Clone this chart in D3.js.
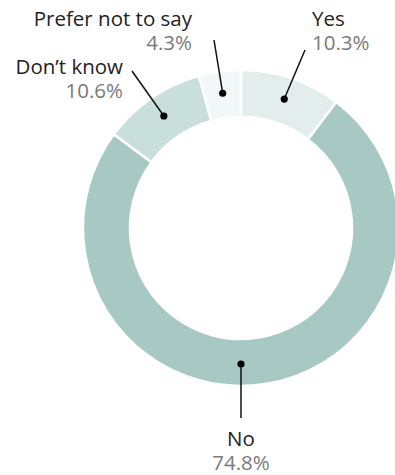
<!DOCTYPE html>
<html>
<head>
<meta charset="utf-8">
<script src="https://cdn.jsdelivr.net/npm/d3@7/dist/d3.min.js"></script>
<style>
  html, body { margin: 0; padding: 0; background: #fff; }
  svg { display: block; }
  text { font-family: "Open Sans", "Noto Sans", sans-serif; }
</style>
</head>
<body>
<svg id="chart" width="395" height="475"></svg>
<script>
// Survey answers, in drawing order clockwise from 12 o'clock
const categories = ["Yes", "No", "Don\u2019t know", "Prefer not to say"];
const shares = [10.3, 74.8, 10.6, 4.3];
const pctLabels = ["10.3%", "74.8%", "10.6%", "4.3%"];
const colors = ["#e3eeec", "#a8c8c4", "#c9dfdb", "#f2f7f7"];

const svg = d3.select("#chart");
const cx = 241, cy = 228;
const outerR = 158, innerR = 111, dotR = 136;

const data = categories.map((c, i) => ({ name: c, value: shares[i], pct: pctLabels[i], color: colors[i] }));

const pie = d3.pie().value(d => d.value).sort(null);
const arcs = pie(data);
const arc = d3.arc().innerRadius(innerR).outerRadius(outerR);

const g = svg.append("g").attr("transform", `translate(${cx},${cy})`);

g.selectAll("path.slice")
  .data(arcs)
  .join("path")
  .attr("class", "slice")
  .attr("d", arc)
  .attr("fill", d => d.data.color)
  .attr("stroke", "#fff")
  .attr("stroke-width", 2.5);

// Callout layout per slice: where the leader ends and how the text is anchored
const callouts = [
  { end: [64, -178], tx: 71, ty: -202, anchor: "start" },
  { end: [0, 190], tx: 0, ty: 218, anchor: "middle" },
  { end: [-109, -157], tx: -118, ty: -154, anchor: "end" },
  { end: [-27, -188], tx: -49, ty: -202, anchor: "end" }
];

arcs.forEach((a, i) => {
  let ang = (a.startAngle + a.endAngle) / 2;
  // a slice that wraps the bottom anchors its dot at 6 o'clock
  if (a.startAngle < Math.PI && a.endAngle > Math.PI && (a.endAngle - a.startAngle) > Math.PI / 2) ang = Math.PI;
  const px = dotR * Math.sin(ang), py = -dotR * Math.cos(ang);
  const c = callouts[i];
  g.append("line")
    .attr("x1", px).attr("y1", py)
    .attr("x2", c.end[0]).attr("y2", c.end[1])
    .attr("stroke", "#111").attr("stroke-width", 1.5);
  g.append("circle").attr("cx", px).attr("cy", py).attr("r", 3.6).attr("fill", "#000");
  const t = g.append("text")
    .attr("x", c.tx).attr("y", c.ty)
    .attr("text-anchor", c.anchor)
    .attr("font-size", 20.5);
  t.append("tspan").attr("x", c.tx).attr("fill", "#222").text(a.data.name);
  t.append("tspan").attr("x", c.tx).attr("dy", 23.5).attr("fill", "#7a7a7a").text(a.data.pct);
});
</script>
</body>
</html>
